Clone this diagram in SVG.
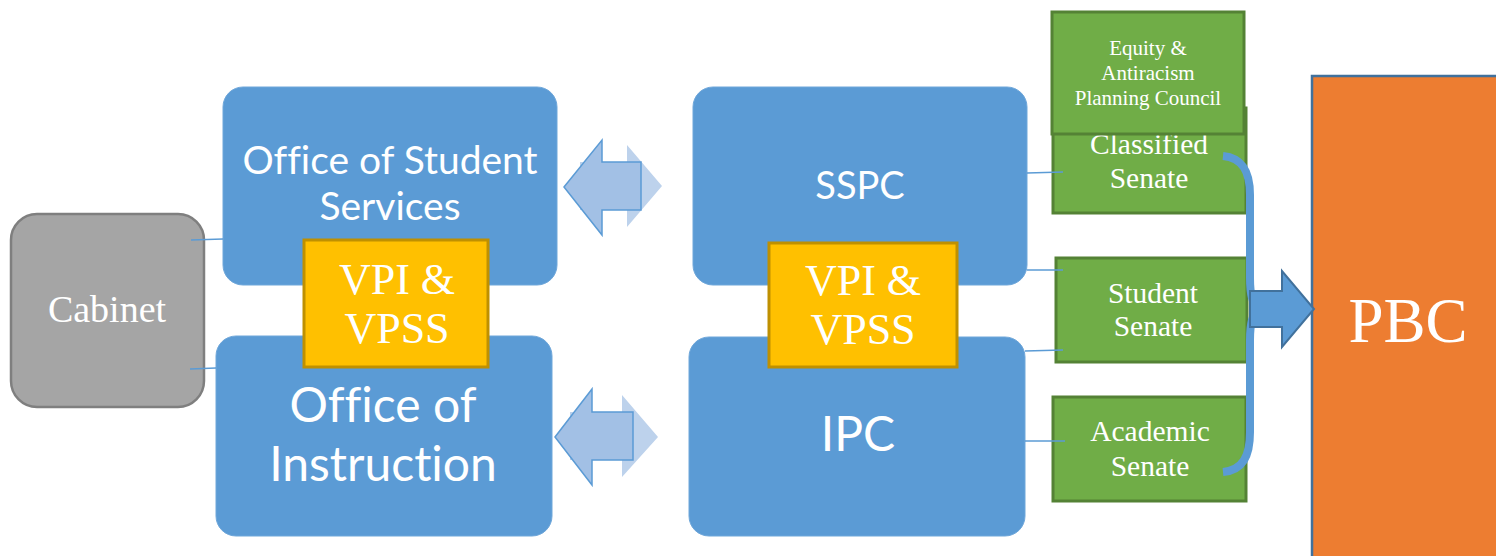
<svg xmlns="http://www.w3.org/2000/svg" width="1496" height="556" viewBox="0 0 1496 556">
  <style>
    .office { fill: #5B9BD5; stroke: #6FA7DA; stroke-width: 1; }
    .vp { fill: #FFC000; stroke: #BF9000; stroke-width: 3; }
    .senate { fill: #70AD47; stroke: #548235; stroke-width: 3; }
    .sans { font-family: Lato, "Open Sans", sans-serif; fill: #FFFFFF; text-anchor: middle; font-variant-ligatures: none; }
    .serif { font-family: "Liberation Serif", "Times New Roman", serif; fill: #FFFFFF; text-anchor: middle; }
    .link { stroke: #5B9BD5; stroke-width: 1.5; fill: none; }
    .back-arrow { fill: #BDD2EC; }
    .front-arrow { fill: #A2C0E5; stroke: #5B9BD5; stroke-width: 1.5; stroke-linejoin: miter; }
  </style>

  <rect width="1496" height="556" fill="#FFFFFF"/>

  <g id="cabinet">
    <rect x="11" y="214" width="193" height="193" rx="26" fill="#A5A5A5" stroke="#7F7F7F" stroke-width="2.5"/>
    <text class="serif" x="107" y="322" font-size="38">Cabinet</text>
  </g>

  <g id="office-student-services">
    <rect class="office" x="223" y="87" width="334" height="198" rx="20"/>
    <text class="sans" x="390" y="174" font-size="39">Office of Student</text>
    <text class="sans" x="390" y="220" font-size="39">Services</text>
  </g>

  <g id="office-instruction">
    <rect class="office" x="216" y="336" width="336" height="200" rx="20"/>
    <text class="sans" x="383" y="422" font-size="48">Office of</text>
    <text class="sans" x="383" y="481" font-size="48">Instruction</text>
  </g>

  <g id="vp-left">
    <rect class="vp" x="304" y="240" width="184" height="127"/>
    <text class="serif" x="397" y="294" font-size="44">VPI &amp;</text>
    <text class="serif" x="397" y="343" font-size="44">VPSS</text>
  </g>

  <g id="sspc">
    <rect class="office" x="693" y="87" width="334" height="198" rx="20"/>
    <text class="sans" x="860" y="199" font-size="38">SSPC</text>
  </g>

  <g id="ipc">
    <rect class="office" x="689" y="337" width="336" height="199" rx="20"/>
    <text class="sans" x="858" y="451" font-size="48">IPC</text>
  </g>

  <g id="vp-right">
    <rect class="vp" x="769" y="243" width="188" height="124"/>
    <text class="serif" x="863" y="295" font-size="44">VPI &amp;</text>
    <text class="serif" x="863" y="344" font-size="44">VPSS</text>
  </g>

  <g id="classified-senate">
    <rect class="senate" x="1053" y="108" width="193" height="105"/>
    <text class="serif" x="1149" y="154" font-size="29.5">Classified</text>
    <text class="serif" x="1149" y="188" font-size="29.5">Senate</text>
  </g>

  <g id="equity-council">
    <rect class="senate" x="1052" y="12" width="192" height="122"/>
    <text class="serif" x="1148" y="55" font-size="21">Equity &amp;</text>
    <text class="serif" x="1148" y="80" font-size="21">Antiracism</text>
    <text class="serif" x="1148" y="105" font-size="21">Planning Council</text>
  </g>

  <g id="student-senate">
    <rect class="senate" x="1056" y="258" width="191" height="104"/>
    <text class="serif" x="1153" y="303" font-size="29.5">Student</text>
    <text class="serif" x="1153" y="336" font-size="29.5">Senate</text>
  </g>

  <g id="academic-senate">
    <rect class="senate" x="1053" y="397" width="193" height="104"/>
    <text class="serif" x="1150" y="441" font-size="29.5">Academic</text>
    <text class="serif" x="1150" y="476" font-size="29.5">Senate</text>
  </g>

  <g id="pbc">
    <rect x="1312" y="76" width="200" height="500" fill="#ED7D31" stroke="#41719C" stroke-width="2.5"/>
    <text class="serif" x="1408" y="342" font-size="63">PBC</text>
  </g>

  <g id="connectors">
    <!-- thin links -->
    <line class="link" x1="191" y1="240" x2="223" y2="239"/>
    <line class="link" x1="190" y1="369" x2="216" y2="368"/>
    <line class="link" x1="1027" y1="173" x2="1063" y2="172"/>
    <line class="link" x1="1027" y1="270" x2="1063" y2="270"/>
    <line class="link" x1="1025" y1="351" x2="1063" y2="350"/>
    <line class="link" x1="1025" y1="441" x2="1065" y2="441"/>

    <!-- two-way exchange between offices and councils -->
    <polygon class="back-arrow" points="580,162 627,162 627,145 662,186 627,227 627,210 580,210"/>
    <polygon class="front-arrow" points="564,187 602,140 602,162 641,162 641,210 602,210 602,235"/>
    <polygon class="back-arrow" points="570,412 622,412 622,395 658,437 622,477 622,460 570,460"/>
    <polygon class="front-arrow" points="555,437 592,389 592,412 633,412 633,460 592,460 592,485"/>

    <!-- brace gathering the senates -->
    <path d="M1223,156 C1243,158 1250,172 1250,195 L1250,278 C1250,296 1253,303 1257,309 C1253,315 1250,322 1250,340 L1250,432 C1250,456 1243,470 1223,472" fill="none" stroke="#5B9BD5" stroke-width="8"/>

    <!-- block arrow into PBC -->
    <polygon points="1250,291 1282,291 1282,271 1314,309 1282,347 1282,327 1250,327" fill="#5B9BD5" stroke="#41719C" stroke-width="2"/>
  </g>
</svg>
